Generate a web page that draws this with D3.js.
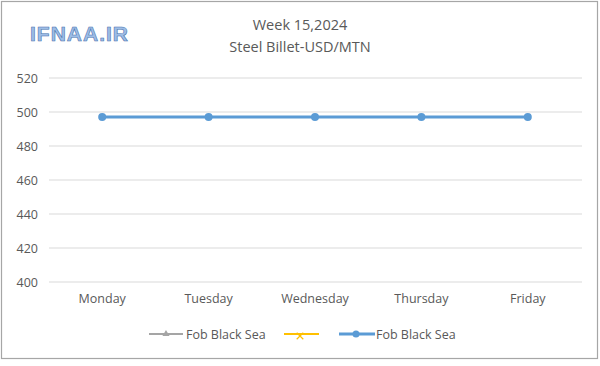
<!DOCTYPE html>
<html><head><meta charset="utf-8">
<script src="https://cdn.jsdelivr.net/npm/d3@7"></script>
<style>body{margin:0;background:#fff;font-family:"Open Sans","Noto Sans",sans-serif;}</style>
</head><body>
<svg id="c" width="600" height="366"></svg>
<script>
const categories = ["Monday","Tuesday","Wednesday","Thursday","Friday"];
const fobBlackSea = [497,497,497,497,497];
const yTicks = [400,420,440,460,480,500,520];
const titleLines = ["Week 15,2024","Steel Billet-USD/MTN"];
const legendLabels = ["Fob Black Sea","","Fob Black Sea"];

const svg = d3.select("#c");
svg.append("rect").attr("x",1.5).attr("y",1.5).attr("width",596).attr("height",357)
  .attr("fill","#fff").attr("stroke","#a6a6a6").attr("stroke-width",1.2);

const x = d3.scaleBand().domain(categories).range([49,581]);
const y = d3.scaleLinear().domain([400,520]).range([282,78]);

svg.append("g").selectAll("line").data(yTicks).join("line")
  .attr("x1",49).attr("x2",582).attr("y1",d=>y(d)).attr("y2",d=>y(d))
  .attr("stroke","#d9d9d9").attr("stroke-width",1);

const yAxis = d3.axisLeft(y).tickValues(yTicks).tickSize(0).tickPadding(0);
const gy = svg.append("g").attr("transform","translate(38,0)").call(yAxis);
gy.select(".domain").remove();
gy.selectAll("text").attr("font-size",12.5).attr("fill","#595959").attr("font-family","Open Sans, sans-serif");

const xAxis = d3.axisBottom(x).tickSize(0).tickPadding(0);
const gx = svg.append("g").attr("transform","translate(0,294)").call(xAxis);
gx.select(".domain").remove();
gx.selectAll("text").attr("font-size",12.5).attr("fill","#595959").attr("font-family","Open Sans, sans-serif");

const line = d3.line().x((d,i)=>x(categories[i])+x.bandwidth()/2).y(d=>y(d));
svg.append("path").datum(fobBlackSea).attr("d",line).attr("fill","none")
  .attr("stroke","#5b9bd5").attr("stroke-width",3);
svg.append("g").selectAll("circle").data(fobBlackSea).join("circle")
  .attr("cx",(d,i)=>x(categories[i])+x.bandwidth()/2).attr("cy",d=>y(d)).attr("r",4)
  .attr("fill","#5b9bd5");

svg.selectAll("text.title").data(titleLines).join("text").attr("class","title")
  .attr("x",300).attr("y",(d,i)=>30+i*22).attr("text-anchor","middle")
  .attr("font-size",14.5).attr("fill","#595959").attr("font-family","Open Sans, sans-serif").text(d=>d);

svg.append("text").attr("x",30).attr("y",41).attr("font-size",21).attr("font-weight","bold")
  .attr("font-family","Liberation Sans, Arial, sans-serif").attr("fill","#9dbde6")
  .attr("stroke","#4a74b0").attr("stroke-width",0.6).attr("textLength",98).text("IFNAA.IR");

// legend
const lg = svg.append("g");
const ly = 334;
lg.append("line").attr("x1",149).attr("x2",183).attr("y1",ly).attr("y2",ly).attr("stroke","#a5a5a5").attr("stroke-width",2);
lg.append("path").attr("d",d3.symbol(d3.symbolTriangle,22)()).attr("transform",`translate(166,${ly})`).attr("fill","#a5a5a5");
lg.append("text").attr("x",186).attr("y",ly+4.5).attr("font-size",12.5).attr("fill","#595959").attr("font-family","Open Sans, sans-serif").text(legendLabels[0]);
lg.append("line").attr("x1",284).attr("x2",319).attr("y1",ly).attr("y2",ly).attr("stroke","#ffc000").attr("stroke-width",2);
lg.append("path").attr("d",d3.symbol(d3.symbolX,30)()).attr("transform",`translate(300,${ly+2})`).attr("fill","none").attr("stroke","#ffc000").attr("stroke-width",1.2);
lg.append("line").attr("x1",339).attr("x2",375).attr("y1",ly).attr("y2",ly).attr("stroke","#5b9bd5").attr("stroke-width",3);
lg.append("circle").attr("cx",356).attr("cy",ly).attr("r",3.5).attr("fill","#5b9bd5");
lg.append("text").attr("x",376).attr("y",ly+4.5).attr("font-size",12.5).attr("fill","#595959").attr("font-family","Open Sans, sans-serif").text(legendLabels[2]);
</script>
</body></html>
